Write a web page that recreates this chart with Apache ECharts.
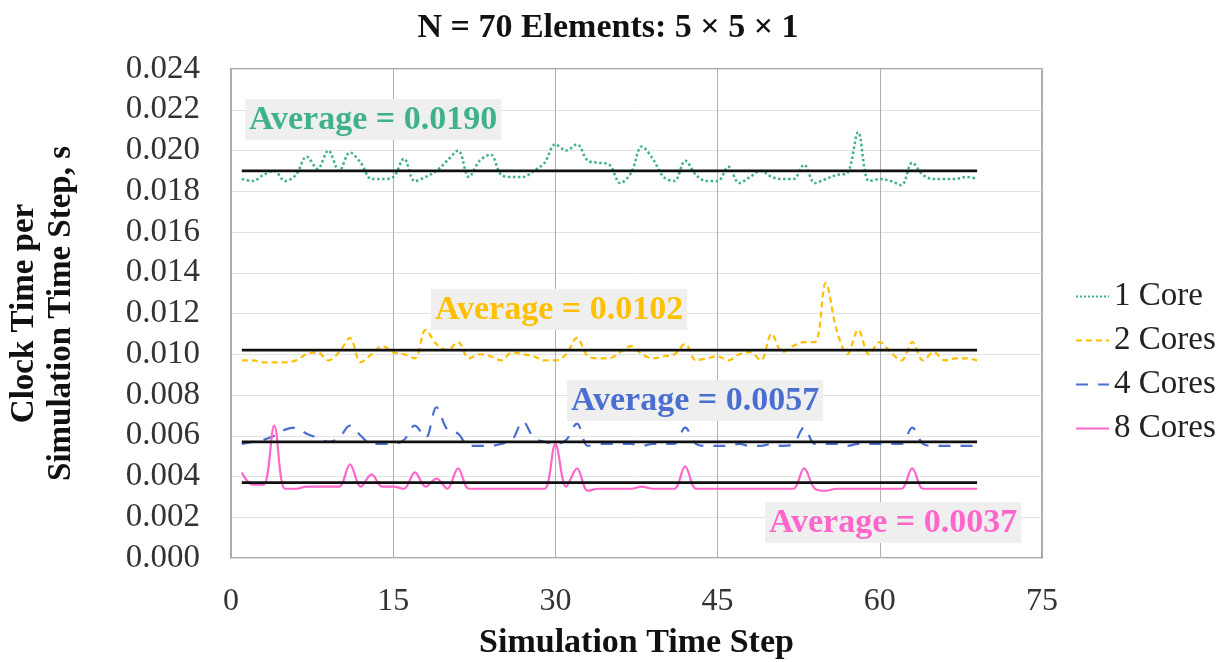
<!DOCTYPE html>
<html>
<head>
<meta charset="utf-8">
<script src="https://cdn.jsdelivr.net/npm/echarts@6/dist/echarts.min.js"></script>
<style>
  html, body { margin: 0; padding: 0; background: #fff; }
  #chart { width: 1229px; height: 662px; }
</style>
</head>
<body>
<div id="chart"></div>
<script>
// clock time per step, seconds (steps 1..69)
const core1 = [
  0.0186, 0.0185, 0.0188, 0.0190, 0.0185, 0.0188, 0.0197, 0.0191, 0.0200, 0.0190,
  0.0199, 0.0194, 0.0186, 0.0186, 0.0187, 0.0196, 0.0185, 0.0187, 0.0190, 0.0195,
  0.0200, 0.0187, 0.0195, 0.0198, 0.0188, 0.0187, 0.0187, 0.0190, 0.0194, 0.0203,
  0.0200, 0.0203, 0.0195, 0.0194, 0.0193, 0.0184, 0.0189, 0.0202, 0.0196, 0.0187,
  0.0185, 0.0195, 0.0188, 0.0185, 0.0185, 0.0192, 0.0184, 0.0187, 0.0190, 0.0187,
  0.0186, 0.0186, 0.0193, 0.0184, 0.0186, 0.0188, 0.0189, 0.0209, 0.0185, 0.0186,
  0.0185, 0.0183, 0.0194, 0.0188, 0.0186, 0.0186, 0.0186, 0.0187, 0.0186
];
const core2 = [
  0.0097, 0.0097, 0.0096, 0.0096, 0.0096, 0.0097, 0.0100, 0.0101, 0.0097, 0.0101,
  0.0108, 0.0096, 0.0100, 0.0104, 0.0101, 0.0100, 0.0098, 0.0112, 0.0105, 0.0102,
  0.0106, 0.0098, 0.0100, 0.0099, 0.0097, 0.0101, 0.0100, 0.0099, 0.0097, 0.0097,
  0.0100, 0.0108, 0.0099, 0.0098, 0.0098, 0.0101, 0.0104, 0.0100, 0.0098, 0.0099,
  0.0100, 0.0105, 0.0097, 0.0098, 0.0099, 0.0097, 0.0100, 0.0101, 0.0097, 0.0110,
  0.0101, 0.0104, 0.0106, 0.0106, 0.0135, 0.0112, 0.0100, 0.0112, 0.0100, 0.0106,
  0.0101, 0.0097, 0.0106, 0.0097, 0.0101, 0.0097, 0.0098, 0.0098, 0.0097
];
const core4 = [
  0.0056, 0.0057, 0.0058, 0.0060, 0.0063, 0.0064, 0.0061, 0.0059, 0.0057, 0.0059,
  0.0065, 0.0060, 0.0056, 0.0056, 0.0056, 0.0058, 0.0065, 0.0059, 0.0074, 0.0063,
  0.0061, 0.0055, 0.0055, 0.0055, 0.0056, 0.0058, 0.0067, 0.0059, 0.0057, 0.0056,
  0.0058, 0.0066, 0.0055, 0.0056, 0.0056, 0.0056, 0.0056, 0.0055, 0.0056, 0.0056,
  0.0056, 0.0064, 0.0056, 0.0055, 0.0055, 0.0055, 0.0056, 0.0055, 0.0055, 0.0056,
  0.0055, 0.0056, 0.0064, 0.0056, 0.0056, 0.0056, 0.0055, 0.0056, 0.0056, 0.0056,
  0.0056, 0.0056, 0.0064, 0.0056, 0.0055, 0.0055, 0.0055, 0.0055, 0.0055
];
const core8 = [
  0.0042, 0.0036, 0.0036, 0.0065, 0.0034, 0.0034, 0.0035, 0.0035, 0.0035, 0.0035,
  0.0046, 0.0035, 0.0041, 0.0035, 0.0035, 0.0034, 0.0042, 0.0035, 0.0039, 0.0034,
  0.0044, 0.0034, 0.0034, 0.0034, 0.0034, 0.0034, 0.0034, 0.0034, 0.0034, 0.0056,
  0.0035, 0.0044, 0.0033, 0.0034, 0.0034, 0.0034, 0.0034, 0.0035, 0.0034, 0.0034,
  0.0034, 0.0045, 0.0034, 0.0034, 0.0034, 0.0034, 0.0034, 0.0034, 0.0034, 0.0034,
  0.0034, 0.0034, 0.0044, 0.0034, 0.0033, 0.0034, 0.0034, 0.0034, 0.0034, 0.0034,
  0.0034, 0.0034, 0.0044, 0.0034, 0.0034, 0.0034, 0.0034, 0.0034, 0.0034
];
const seriesNames = ['1 Core', '2 Cores', '4 Cores', '8 Cores'];
const averages = [0.0190, 0.0102, 0.0057, 0.0037];
const firstStep = 1;
const lastStep = 69;

const colors = ['#3fb28c', '#ffc000', '#4a6fd0', '#ff66cc'];
const serif = '"Liberation Serif", "DejaVu Serif", serif';

const toPairs = (arr) => arr.map((v, i) => [firstStep + i, v]);

const chart = echarts.init(document.getElementById('chart'));

const lineSeries = [
  { data: core1, type: 'dotted', width: 2.5 },
  { data: core2, type: [6, 4], width: 2.2 },
  { data: core4, type: [12, 10], width: 2.2 },
  { data: core8, type: 'solid', width: 2.2 },
].map((s, i) => ({
  name: seriesNames[i],
  type: 'line',
  data: toPairs(s.data),
  smooth: 0.35,
  symbol: 'none',
  lineStyle: { color: colors[i], width: s.width, type: s.type },
  itemStyle: { color: colors[i] },
  z: 2,
}));

const avgSeries = averages.map((a, i) => ({
  name: 'avg' + i,
  type: 'line',
  data: [[firstStep, a], [lastStep, a]],
  symbol: 'none',
  silent: true,
  lineStyle: { color: '#111', width: 2.8 },
  z: 3,
}));

// "Average = ..." boxes
const avgLabelPos = [[245, 99], [431, 289], [567, 380], [765, 502]];
const graphics = averages.map((a, i) => ({
  type: 'text',
  left: avgLabelPos[i][0],
  top: avgLabelPos[i][1],
  z: 10,
  style: {
    text: 'Average = ' + a.toFixed(4),
    font: 'bold 34px ' + serif,
    fill: colors[i],
    backgroundColor: '#efefef',
    padding: [4, 4, 3, 4],
  },
}));

chart.setOption({
  animation: false,
  title: {
    text: 'N = 70 Elements: 5 × 5 × 1',
    left: 603,
    top: 6,
    textAlign: 'center',
    textStyle: { fontFamily: serif, fontWeight: 'bold', fontSize: 34, color: '#111' },
  },
  grid: {
    left: 231, top: 69, right: 187, bottom: 104,
    outerBoundsMode: 'none',
    show: true, borderColor: '#8a8a8a', borderWidth: 1.5,
  },
  legend: {
    data: seriesNames,
    orient: 'vertical',
    left: 1070,
    top: 275,
    itemWidth: 33,
    itemHeight: 14,
    itemGap: 11,
    itemStyle: { opacity: 0 },
    textStyle: { fontFamily: serif, fontSize: 33, color: '#222' },
  },
  xAxis: {
    type: 'value',
    min: 0,
    max: 75,
    interval: 15,
    name: 'Simulation Time Step',
    nameLocation: 'middle',
    nameGap: 68,
    nameTextStyle: { fontFamily: serif, fontWeight: 'bold', fontSize: 34, color: '#111' },
    axisLine: { show: false },
    axisTick: { show: false },
    axisLabel: { fontFamily: serif, fontSize: 32, color: '#333', margin: 28 },
    splitLine: { show: true, lineStyle: { color: '#b0b0b0', width: 1 } },
  },
  yAxis: {
    type: 'value',
    min: 0,
    max: 0.024,
    interval: 0.002,
    name: 'Clock Time per\nSimulation Time Step, s',
    nameLocation: 'middle',
    nameGap: 151,
    nameRotate: 90,
    nameTextStyle: { fontFamily: serif, fontWeight: 'bold', fontSize: 33, color: '#111', lineHeight: 37 },
    axisLine: { show: false },
    axisTick: { show: false },
    axisLabel: {
      fontFamily: serif, fontSize: 33, color: '#333', margin: 31,
      padding: [6, 0, 0, 0],
      formatter: (v) => v.toFixed(3),
    },
    splitLine: { show: true, lineStyle: { color: '#e2e2e2', width: 1 } },
  },
  graphic: graphics,
  series: lineSeries.concat(avgSeries),
});
</script>
</body>
</html>
